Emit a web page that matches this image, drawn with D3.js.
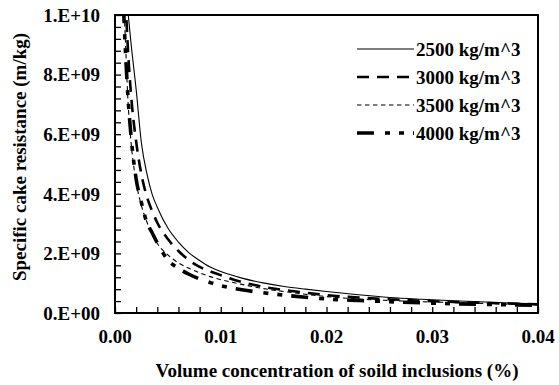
<!DOCTYPE html>
<html>
<head>
<meta charset="utf-8">
<script src="https://cdn.jsdelivr.net/npm/d3@7"></script>
<style>
  html, body { margin: 0; padding: 0; background: #fff; }
  svg { display: block; }
  text { font-family: "Liberation Serif", "Times New Roman", serif; font-weight: bold; fill: #000; }
</style>
</head>
<body>
<svg id="chart" width="559" height="385"></svg>
<script>
// ---- data (R in units of 1e9 m/kg, x in %) ----
const seriesNames = ["2500 kg/m^3", "3000 kg/m^3", "3500 kg/m^3", "4000 kg/m^3"];

const x2500 = [0.0012, 0.0015, 0.002, 0.0025, 0.003, 0.0035, 0.004, 0.005, 0.006, 0.007, 0.008, 0.009, 0.010, 0.012, 0.014, 0.016, 0.018, 0.020, 0.023, 0.026, 0.029, 0.032, 0.035, 0.040];
const y2500 = [10.2, 9.1, 7.5, 5.7, 4.7, 4.0, 3.55, 2.85, 2.38, 2.02, 1.76, 1.54, 1.39, 1.17, 1.01, 0.89, 0.80, 0.72, 0.61, 0.52, 0.46, 0.41, 0.37, 0.30];

const x3000 = [0.001, 0.0012, 0.0015, 0.002, 0.0025, 0.003, 0.0035, 0.004, 0.005, 0.006, 0.007, 0.008, 0.009, 0.010, 0.012, 0.014, 0.016, 0.018, 0.020, 0.023, 0.026, 0.029, 0.032, 0.035, 0.040];
const y3000 = [10.5, 9.0, 7.4, 5.75, 4.65, 3.92, 3.43, 3.03, 2.48, 2.08, 1.77, 1.55, 1.40, 1.27, 1.04, 0.88, 0.77, 0.68, 0.60, 0.52, 0.46, 0.41, 0.37, 0.34, 0.29];

const x3500 = [0.00085, 0.001, 0.0012, 0.0015, 0.002, 0.0025, 0.003, 0.0035, 0.004, 0.005, 0.006, 0.007, 0.008, 0.009, 0.010, 0.012, 0.014, 0.016, 0.018, 0.020, 0.023, 0.026, 0.029, 0.032, 0.035, 0.040];
const y3500 = [10.3, 9.0, 7.3, 5.8, 4.4, 3.6, 3.07, 2.64, 2.33, 1.95, 1.68, 1.50, 1.35, 1.22, 1.12, 0.96, 0.82, 0.72, 0.63, 0.55, 0.47, 0.42, 0.38, 0.35, 0.32, 0.27];

const x4000 = [0.0008, 0.001, 0.0012, 0.0015, 0.002, 0.0025, 0.003, 0.0035, 0.004, 0.005, 0.006, 0.007, 0.008, 0.009, 0.010, 0.012, 0.014, 0.016, 0.018, 0.020, 0.023, 0.026, 0.029, 0.032, 0.035, 0.040];
const y4000 = [10.3, 8.7, 7.4, 6.0, 4.5, 3.7, 3.05, 2.7, 2.35, 1.78, 1.50, 1.30, 1.14, 1.02, 0.92, 0.78, 0.68, 0.60, 0.53, 0.47, 0.42, 0.38, 0.34, 0.31, 0.29, 0.26];

const xTickValues = [0, 0.01, 0.02, 0.03, 0.04];
const xTickLabels = ["0.00", "0.01", "0.02", "0.03", "0.04"];
const yTickValues = [0, 2, 4, 6, 8, 10];
const yTickLabels = ["0.E+00", "2.E+09", "4.E+09", "6.E+09", "8.E+09", "1.E+10"];
const xMinorStep = 0.002;
const yMinorStep = 0.4;

const xTitle = "Volume concentration of soild inclusions (%)";
const yTitle = "Specific cake resistance (m/kg)";

// ---- layout ----
const svg = d3.select("#chart");
const L = 115, R = 538, T = 15, B = 313;
const x = d3.scaleLinear().domain([0, 0.04]).range([L, R]);
const y = d3.scaleLinear().domain([0, 10]).range([B, T]);

const series = [
  { name: seriesNames[0], xs: x2500, ys: y2500, width: 1.1, dash: null },
  { name: seriesNames[1], xs: x3000, ys: y3000, width: 2.6, dash: "12,8" },
  { name: seriesNames[2], xs: x3500, ys: y3500, width: 1.1, dash: "4.5,3.5" },
  { name: seriesNames[3], xs: x4000, ys: y4000, width: 3.6, dash: "17,11,5,9,5,9" }
];

svg.append("defs").append("clipPath").attr("id", "clip")
  .append("rect").attr("x", L).attr("y", T).attr("width", R - L).attr("height", B - T);

const line = d3.line().x(d => x(d[0])).y(d => y(d[1])).curve(d3.curveMonotoneX);

const gLines = svg.append("g").attr("clip-path", "url(#clip)");
series.forEach(s => {
  const pts = s.xs.map((v, i) => [v, s.ys[i]]);
  gLines.append("path")
    .datum(pts)
    .attr("d", line)
    .attr("fill", "none")
    .attr("stroke", "#000")
    .attr("stroke-width", s.width)
    .attr("stroke-dasharray", s.dash)
    .attr("stroke-linejoin", "round");
});

// minor/major ticks inside
const xMinor = d3.range(0, 0.04 + 1e-9, xMinorStep);
const yMinor = d3.range(0, 10 + 1e-9, yMinorStep);

const xAxis = d3.axisBottom(x).tickValues(xMinor).tickSize(-6).tickFormat("");
const gx = svg.append("g").attr("transform", `translate(0,${B})`).call(xAxis);
gx.select(".domain").remove();
gx.selectAll("line").attr("stroke", "#000").attr("stroke-width", 1.3);

const yAxis = d3.axisLeft(y).tickValues(yMinor).tickSize(-6).tickFormat("");
const gy = svg.append("g").attr("transform", `translate(${L},0)`).call(yAxis);
gy.select(".domain").remove();
gy.selectAll("line").attr("stroke", "#000").attr("stroke-width", 1.3);

// frame
svg.append("rect").attr("x", L).attr("y", T).attr("width", R - L).attr("height", B - T)
  .attr("fill", "none").attr("stroke", "#000").attr("stroke-width", 2);

// tick labels
svg.append("g").selectAll("text").data(xTickValues).join("text")
  .attr("x", d => x(d)).attr("y", 343)
  .attr("text-anchor", "middle").attr("font-size", 19)
  .text((d, i) => xTickLabels[i]);

svg.append("g").selectAll("text").data(yTickValues).join("text")
  .attr("x", 100).attr("y", d => y(d)).attr("dy", "0.36em")
  .attr("text-anchor", "end").attr("font-size", 19)
  .text((d, i) => yTickLabels[i]);

// axis titles
svg.append("text").attr("x", 337).attr("y", 377)
  .attr("text-anchor", "middle").attr("font-size", 19).text(xTitle);
svg.append("text").attr("transform", "translate(26,157) rotate(-90)")
  .attr("text-anchor", "middle").attr("font-size", 19).text(yTitle);

// legend
const legY0 = 49, legDy = 28;
const lg = svg.append("g");
series.forEach((s, i) => {
  const yy = legY0 + i * legDy;
  lg.append("line").attr("x1", 357).attr("x2", 414).attr("y1", yy).attr("y2", yy)
    .attr("stroke", "#000").attr("stroke-width", s.width).attr("stroke-dasharray", s.dash);
  lg.append("text").attr("x", 416).attr("y", yy).attr("dy", "0.35em")
    .attr("font-size", 19).text(s.name);
});
</script>
</body>
</html>
